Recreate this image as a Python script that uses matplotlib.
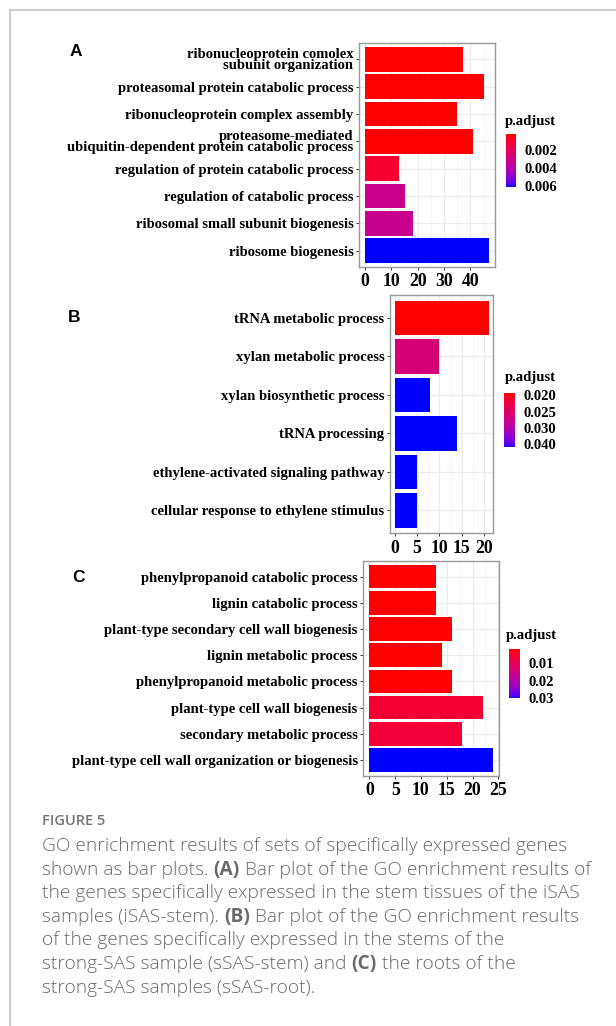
import numpy as np
import matplotlib
matplotlib.use("Agg")
import matplotlib.pyplot as plt
from matplotlib.colors import ListedColormap, Normalize
from matplotlib.cm import ScalarMappable
from matplotlib.lines import Line2D

# ---- data ----
terms_a = ["ribonucleoprotein comolex\nsubunit organization",
           "proteasomal protein catabolic process",
           "ribonucleoprotein complex assembly",
           "proteasome-mediated\nubiquitin-dependent protein catabolic process",
           "regulation of protein catabolic process",
           "regulation of catabolic process",
           "ribosomal small subunit biogenesis",
           "ribosome biogenesis"]
count_a = [37, 45, 35, 41, 13, 15, 18, 47]
padj_a = [0.00028, 0.00028, 0.00029, 0.00029, 0.0010, 0.0032, 0.0033, 0.00608]
xticks_a = [0, 10, 20, 30, 40]
cb_ticks_a = [0.002, 0.004, 0.006]
cb_labels_a = ["0.002", "0.004", "0.006"]

terms_b = ["tRNA metabolic process",
           "xylan metabolic process",
           "xylan biosynthetic process",
           "tRNA processing",
           "ethylene-activated signaling pathway",
           "cellular response to ethylene stimulus"]
count_b = [21, 10, 8, 14, 5, 5]
padj_b = [0.0193, 0.0262, 0.0357, 0.0357, 0.0357, 0.0357]
xticks_b = [0, 5, 10, 15, 20]
cb_ticks_b = [0.020, 0.025, 0.030, 0.0347]
cb_labels_b = ["0.020", "0.025", "0.030", "0.040"]

terms_c = ["phenylpropanoid catabolic process",
           "lignin catabolic process",
           "plant-type secondary cell wall biogenesis",
           "lignin metabolic process",
           "phenylpropanoid metabolic process",
           "plant-type cell wall biogenesis",
           "secondary metabolic process",
           "plant-type cell wall organization or biogenesis"]
count_c = [13, 13, 16, 14, 16, 22, 18, 24]
padj_c = [0.0020, 0.0020, 0.0021, 0.0021, 0.0021, 0.0060, 0.0062, 0.0300]
xticks_c = [0, 5, 10, 15, 20, 25]
cb_ticks_c = [0.01, 0.02, 0.03]
cb_labels_c = ["0.01", "0.02", "0.03"]

caption_title = "FIGURE 5"
caption_lines = [
    [("GO enrichment results of sets of specifically expressed genes", False)],
    [("shown as bar plots.", False), ("(A)", True), ("Bar plot of the GO enrichment results of", False)],
    [("the genes specifically expressed in the stem tissues of the iSAS", False)],
    [("samples (iSAS-stem).", False), ("(B)", True), ("Bar plot of the GO enrichment results", False)],
    [("of the genes specifically expressed in the stems of the", False)],
    [("strong-SAS sample (sSAS-stem) and", False), ("(C)", True), ("the roots of the", False)],
    [("strong-SAS samples (sSAS-root).", False)],
]

# ---- red -> blue gradient interpolated in Lab, like ggplot ----
M = np.array([[0.4124, 0.3576, 0.1805],
              [0.2126, 0.7152, 0.0722],
              [0.0193, 0.1192, 0.9505]])
WHITE = np.array([0.95047, 1.0, 1.08883])


def to_lab(rgb):
    rgb = np.asarray(rgb, float)
    lin = np.where(rgb <= 0.04045, rgb / 12.92, ((rgb + 0.055) / 1.055) ** 2.4)
    xyz = M @ lin / WHITE
    f = np.where(xyz > 0.008856, np.cbrt(xyz), 7.787 * xyz + 16 / 116)
    return np.array([116 * f[1] - 16, 500 * (f[0] - f[1]), 200 * (f[1] - f[2])])


def from_lab(lab):
    L, a, b = lab
    fy = (L + 16) / 116
    f = np.array([fy + a / 500, fy, fy - b / 200])
    xyz = np.where(f ** 3 > 0.008856, f ** 3, (f - 16 / 116) / 7.787) * WHITE
    lin = np.clip(np.linalg.inv(M) @ xyz, 0, 1)
    rgb = np.where(lin <= 0.0031308, 12.92 * lin, 1.055 * lin ** (1 / 2.4) - 0.055)
    return np.clip(rgb, 0, 1)


lo, hi = to_lab([1, 0, 0]), to_lab([0, 0, 1])
cmap = ListedColormap([from_lab(lo + t * (hi - lo)) for t in np.linspace(0, 1, 256)])

W, H = 616, 1026
fig = plt.figure(figsize=(W / 100, H / 100), dpi=100)
serif = "Liberation Serif"


def px(x0, y0, x1, y1):
    return [x0 / W, 1 - y1 / H, (x1 - x0) / W, (y1 - y0) / H]


def panel(rect, terms, counts, padj, xticks, cb_rect, cb_ticks, cb_labels, title_xy):
    ax = fig.add_axes(px(*rect))
    n = len(terms)
    y = np.arange(n)
    norm = Normalize(min(padj), max(padj))
    ax.barh(y, counts, height=0.9, color=cmap(norm(np.array(padj))), zorder=2)
    xmax = max(counts)
    ax.set_xlim(-0.05 * xmax, 1.05 * xmax)
    ax.set_ylim(n - 1 + 0.6, -0.6)
    ax.set_xticks(xticks)
    step = xticks[1] - xticks[0]
    ax.set_xticks(np.arange(xticks[0] + step / 2, 1.05 * xmax, step), minor=True)
    ax.set_yticks(y)
    ax.set_yticklabels(terms, fontfamily=serif, fontweight="bold", fontsize=10.5,
                       linespacing=0.78)
    ax.set_xticklabels([str(v) for v in xticks], fontfamily=serif,
                       fontweight="bold", fontsize=12.8)
    ax.grid(True, which="major", color="#ebebeb", lw=0.9, zorder=0)
    ax.grid(True, which="minor", axis="x", color="#f3f3f3", lw=0.6, zorder=0)
    ax.set_axisbelow(True)
    ax.tick_params(which="major", length=2.5, width=0.7, color="#333333", pad=1.5)
    ax.tick_params(axis="x", pad=2.0)
    ax.tick_params(which="minor", length=0)
    for s in ax.spines.values():
        s.set_color("#999999")
        s.set_linewidth(1.0)

    cax = fig.add_axes(px(*cb_rect))
    cb = fig.colorbar(ScalarMappable(norm=norm, cmap=cmap), cax=cax)
    cb.outline.set_visible(False)
    cax.invert_yaxis()
    cb.set_ticks(cb_ticks)
    cb.set_ticklabels(cb_labels)
    cax.tick_params(length=0, pad=6)
    for t in cax.get_yticklabels():
        t.set_fontfamily(serif)
        t.set_fontweight("bold")
        t.set_fontsize(10.5)
    fig.text(title_xy[0] / W, 1 - title_xy[1] / H, "p.adjust", fontfamily=serif,
             fontweight="bold", fontsize=10.6, ha="left", va="center")
    return ax


panel((359, 43, 495, 267), terms_a, count_a, padj_a, xticks_a,
      (505.7, 134.3, 515.7, 186.7), cb_ticks_a, cb_labels_a, (505, 121))
panel((390, 295, 493.3, 533.3), terms_b, count_b, padj_b, xticks_b,
      (504, 392.7, 515, 447.3), cb_ticks_b, cb_labels_b, (505, 378))
panel((363.3, 561, 499.3, 775.7), terms_c, count_c, padj_c, xticks_c,
      (509.3, 649.3, 520, 698.3), cb_ticks_c, cb_labels_c, (506, 636))

for letter, x, y in [("A", 70, 51), ("B", 68, 317), ("C", 72, 578)]:
    fig.text(x / W, 1 - y / H, letter, fontfamily="Liberation Sans",
             fontweight="bold", fontsize=12.5, ha="left", va="center")

# frame lines of the figure box
fig.add_artist(Line2D([10 / W, 10 / W], [0, 1 - 10 / H], transform=fig.transFigure,
                      color="#cccccc", lw=1.5))
fig.add_artist(Line2D([10 / W, 1], [1 - 10 / H, 1 - 10 / H], transform=fig.transFigure,
                      color="#cccccc", lw=1.5))

# caption
cap_font = "Open Sans"
cap_color = "#6a6a6a"
cap_size = 13.8
cap_x = 42
fig.text(cap_x / W, 1 - 821 / H, caption_title, fontfamily=cap_font, fontweight="semibold",
         fontsize=10.5, color="#777777", ha="left", va="center")

renderer = fig.canvas.get_renderer()
probe1 = fig.text(0, 0, "a a", fontfamily=cap_font, fontsize=cap_size)
probe2 = fig.text(0, 0, "aa", fontfamily=cap_font, fontsize=cap_size)
space_w = probe1.get_window_extent(renderer).width - probe2.get_window_extent(renderer).width
probe1.remove()
probe2.remove()

for i, segs in enumerate(caption_lines):
    x = cap_x
    yy = 846 + i * 23.6
    for s, bold in segs:
        t = fig.text(x / W, 1 - yy / H, s, fontfamily=cap_font, fontsize=cap_size,
                     fontweight="bold" if bold else 300, color=cap_color,
                     ha="left", va="center")
        x += t.get_window_extent(renderer).width + space_w

fig.savefig("out.png", dpi=100)
